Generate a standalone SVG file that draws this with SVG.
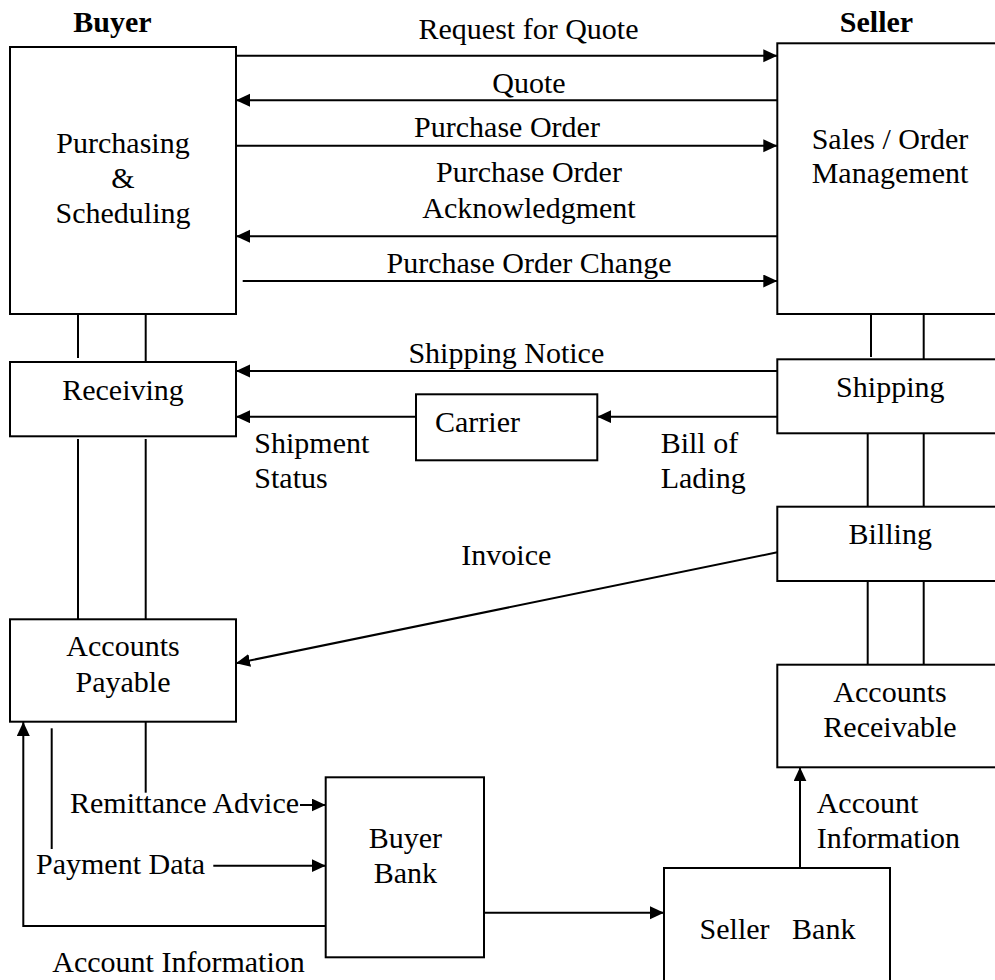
<svg xmlns="http://www.w3.org/2000/svg" width="995" height="980" viewBox="0 0 995 980">
  <defs>
    <marker id="arrow" markerUnits="userSpaceOnUse" markerWidth="15" markerHeight="14" refX="14" refY="6.5" orient="auto">
      <path d="M0,0 L14,6.5 L0,13 z" fill="#000"/>
    </marker>
    <style>
      .box { fill: #fff; stroke: #000; stroke-width: 2; }
      .ln { fill: none; stroke: #000; stroke-width: 2; }
      .arr { fill: none; stroke: #000; stroke-width: 2; marker-end: url(#arrow); }
      text { font-family: "Liberation Serif", "Times New Roman", serif; font-size: 30px; fill: #000; }
      .c { text-anchor: middle; }
      .b { font-weight: bold; }
    </style>
  </defs>
  <rect width="995" height="980" fill="#fff"/>

  <!-- side headings -->
  <text class="c b" x="112.5" y="32">Buyer</text>
  <text class="c b" x="876.5" y="32">Seller</text>

  <!-- connectors -->
  <g id="connectors">
    <!-- order exchange -->
    <line class="arr" x1="236" y1="55.7" x2="777.3" y2="55.7"/>
    <line class="arr" x1="777.3" y1="100.3" x2="236" y2="100.3"/>
    <line class="arr" x1="236" y1="145.7" x2="777.3" y2="145.7"/>
    <line class="arr" x1="777.3" y1="236.3" x2="236" y2="236.3"/>
    <line class="arr" x1="242.7" y1="281" x2="777.3" y2="281"/>

    <!-- buyer column links -->
    <line class="ln" x1="78" y1="314" x2="78" y2="358"/>
    <line class="ln" x1="145.7" y1="314" x2="145.7" y2="362"/>
    <line class="ln" x1="78" y1="439" x2="78" y2="619.3"/>
    <line class="ln" x1="145.7" y1="439" x2="145.7" y2="619.3"/>

    <!-- seller column links -->
    <line class="ln" x1="871" y1="311" x2="871" y2="357"/>
    <line class="ln" x1="923.7" y1="314" x2="923.7" y2="359.3"/>
    <line class="ln" x1="867.7" y1="433.3" x2="867.7" y2="506.7"/>
    <line class="ln" x1="923.7" y1="433.3" x2="923.7" y2="506.7"/>
    <line class="ln" x1="867.7" y1="581" x2="867.7" y2="664.7"/>
    <line class="ln" x1="923.7" y1="581" x2="923.7" y2="664.7"/>

    <!-- shipping -->
    <line class="arr" x1="777.3" y1="371" x2="236" y2="371"/>
    <line class="arr" x1="777.3" y1="416.7" x2="597.3" y2="416.7"/>
    <line class="arr" x1="416" y1="416.7" x2="236" y2="416.7"/>

    <!-- invoice -->
    <line class="arr" x1="777.3" y1="552.3" x2="236" y2="663.3"/>

    <!-- payment -->
    <line class="ln" x1="145.7" y1="721.7" x2="145.7" y2="792.7"/>
    <line class="arr" x1="300" y1="805" x2="325.7" y2="805"/>
    <line class="ln" x1="51.7" y1="728.3" x2="51.7" y2="849"/>
    <line class="arr" x1="213.3" y1="865.7" x2="325.7" y2="865.7"/>
    <polyline class="arr" points="325.7,926 23.3,926 23.3,722"/>
    <line class="arr" x1="484" y1="912.7" x2="664" y2="912.7"/>
    <line class="arr" x1="800" y1="868" x2="800" y2="767.3"/>
  </g>

  <!-- connector labels -->
  <g id="labels">
    <text class="c" x="528.5" y="39">Request for Quote</text>
    <text class="c" x="529" y="93">Quote</text>
    <text class="c" x="507" y="137.3">Purchase Order</text>
    <text class="c" x="529" y="181.7">Purchase Order</text>
    <text class="c" x="529" y="217.7">Acknowledgment</text>
    <text class="c" x="529" y="272.7">Purchase Order Change</text>
    <text class="c" x="506.3" y="362.5">Shipping Notice</text>
    <text x="254.3" y="453.3">Shipment</text>
    <text x="254.3" y="487.7">Status</text>
    <text x="660.7" y="452.7">Bill of</text>
    <text x="660.7" y="488.3">Lading</text>
    <text class="c" x="506.3" y="565">Invoice</text>
    <text x="70" y="813.3">Remittance Advice</text>
    <text x="36" y="874.3">Payment Data</text>
    <text x="52.3" y="971.7">Account Information</text>
    <text x="816.7" y="812.7">Account</text>
    <text x="816.7" y="848.3">Information</text>
  </g>

  <!-- buyer side -->
  <g id="purchasing">
    <rect class="box" x="10" y="47" width="226" height="267"/>
    <text class="c" x="123" y="153.3">Purchasing</text>
    <text class="c" x="123" y="188">&amp;</text>
    <text class="c" x="123" y="222.7">Scheduling</text>
  </g>
  <g id="receiving">
    <rect class="box" x="10" y="362" width="226" height="74.3"/>
    <text class="c" x="123" y="400">Receiving</text>
  </g>
  <g id="accounts-payable">
    <rect class="box" x="10" y="619.3" width="226" height="102.4"/>
    <text class="c" x="123" y="656">Accounts</text>
    <text class="c" x="123" y="691.7">Payable</text>
  </g>
  <g id="buyer-bank">
    <rect class="box" x="325.7" y="777.3" width="158.3" height="180"/>
    <text class="c" x="405.3" y="848.3">Buyer</text>
    <text class="c" x="405.3" y="883.3">Bank</text>
  </g>

  <!-- carrier -->
  <g id="carrier">
    <rect class="box" x="416" y="394.3" width="181.3" height="66"/>
    <text x="435" y="431.7">Carrier</text>
  </g>

  <!-- seller side -->
  <g id="sales">
    <rect class="box" x="777.3" y="43.3" width="230" height="270.7"/>
    <text class="c" x="890" y="149.3">Sales / Order</text>
    <text class="c" x="890" y="183.3">Management</text>
  </g>
  <g id="shipping">
    <rect class="box" x="777.3" y="359.3" width="230" height="74"/>
    <text class="c" x="890.3" y="396.7">Shipping</text>
  </g>
  <g id="billing">
    <rect class="box" x="777.3" y="506.7" width="230" height="74.3"/>
    <text class="c" x="890.3" y="544.3">Billing</text>
  </g>
  <g id="accounts-receivable">
    <rect class="box" x="777.3" y="664.7" width="230" height="102.6"/>
    <text class="c" x="890" y="701.7">Accounts</text>
    <text class="c" x="890" y="737.3">Receivable</text>
  </g>
  <g id="seller-bank">
    <rect class="box" x="664" y="868" width="226" height="130"/>
    <text class="c" x="777.5" y="939.3" xml:space="preserve">Seller   Bank</text>
  </g>
</svg>
